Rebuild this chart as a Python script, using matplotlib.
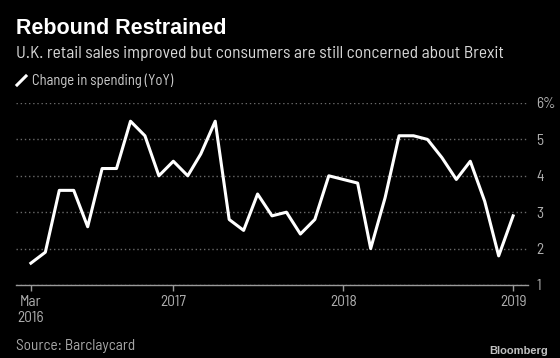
import pandas as pd
import matplotlib.pyplot as plt
from matplotlib.lines import Line2D

# monthly YoY change in card spending, Mar 2016 - Jan 2019
months = pd.date_range("2016-03-01", periods=35, freq="MS")
spending = [1.6, 1.9, 3.6, 3.6, 2.6, 4.2, 4.2, 5.5, 5.1, 4.0,
            4.4, 4.0, 4.6, 5.5, 2.8, 2.5, 3.5, 2.9, 3.0, 2.4,
            2.8, 4.0, 3.9, 3.8, 2.0, 3.4, 5.1, 5.1, 5.0, 4.5,
            3.9, 4.4, 3.3, 1.8, 2.9]

x_ticks = pd.to_datetime(["2016-03-01", "2017-01-01", "2018-01-01", "2019-01-01"])
x_labels = ["Mar\n2016", "2017", "2018", "2019"]
y_ticks = [1, 2, 3, 4, 5, 6]
y_labels = ["1", "2", "3", "4", "5", "6%"]

plt.rcParams["font.family"] = ["Barlow Semi Condensed", "DejaVu Sans"]

W, H = 560, 358
fig = plt.figure(figsize=(W / 100, H / 100), dpi=100, facecolor="black")
ax = fig.add_axes([16 / W, 1 - 285 / H, (528 - 16) / W, (285 - 103) / H])
ax.set_facecolor("black")

ax.plot(months, spending, color="white", linewidth=2.2, clip_on=False, zorder=3)

ax.set_xlim(pd.Timestamp("2016-01-29"), pd.Timestamp("2019-02-02"))
ax.set_ylim(1, 6)
ax.set_xticks(x_ticks)
ax.set_xticklabels(x_labels, multialignment="center")
ax.yaxis.tick_right()
ax.set_yticks(y_ticks)
ax.set_yticklabels(y_labels)

ax.tick_params(axis="x", colors="#9a9a9a", direction="out", length=4, width=1, pad=3, labelsize=11)
ax.tick_params(axis="x", labelcolor="#b0b0b0")
ax.tick_params(axis="y", length=0, pad=6, labelsize=11, labelcolor="#b0b0b0")
for lab in ax.get_yticklabels():
    lab.set_horizontalalignment("left")

ax.grid(axis="y", color="#6a6a6a", linestyle=(0, (1, 2)), linewidth=1)
for side in ["top", "left", "right"]:
    ax.spines[side].set_visible(False)
ax.spines["bottom"].set_color("#9a9a9a")
ax.spines["bottom"].set_linewidth(1)

fig.text(16 / W, 1 - 28 / H, "Rebound Restrained", color="white", fontsize=15.5,
         fontweight="bold", va="center", family=["Liberation Sans", "DejaVu Sans"])
fig.text(16 / W, 1 - 53.5 / H, "U.K. retail sales improved but consumers are still concerned about Brexit",
         color="#d9d9d9", fontsize=12.5, va="center")
fig.add_artist(Line2D([17 / W, 26 / W], [1 - 85 / H, 1 - 76 / H], color="white", linewidth=2.2))
fig.text(31.5 / W, 1 - 81 / H, "Change in spending (YoY)", color="#d0d0d0", fontsize=10.5, va="center")
fig.text(16 / W, 1 - 346 / H, "Source: Barclaycard", color="#a8a8a8", fontsize=11, va="center")
fig.text(548 / W, 1 - 351 / H, "Bloomberg", color="#c0c0c0", fontsize=8, fontweight="bold",
         va="center", ha="right", family=["Liberation Sans", "DejaVu Sans"])

fig.savefig("out.png", dpi=100, facecolor="black")
